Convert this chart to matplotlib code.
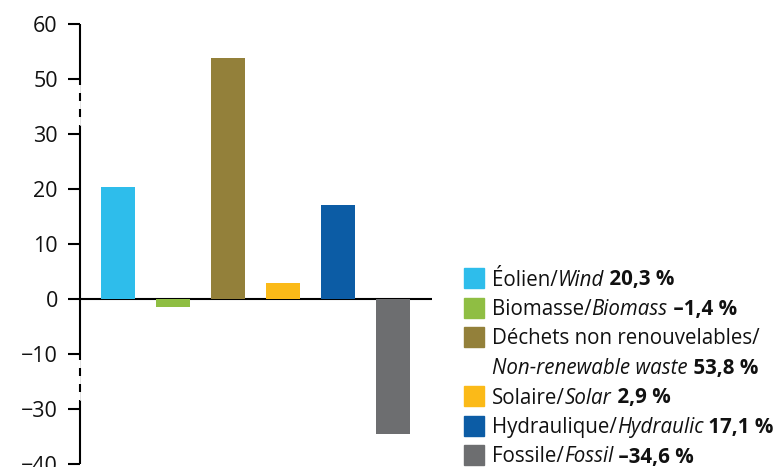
import numpy as np
import matplotlib
matplotlib.use("Agg")
import matplotlib.pyplot as plt
from matplotlib.patches import Rectangle

plt.rcParams['font.family'] = ['Open Sans', 'DejaVu Sans']
plt.rcParams['lines.scale_dashes'] = False

# data
sources = ["Wind", "Biomass", "Non-renewable waste", "Solar", "Hydraulic", "Fossil"]
changes = [20.3, -1.4, 53.8, 2.9, 17.1, -34.6]
colors = ["#2ebdeb", "#8fbe43", "#93803a", "#fbba18", "#0c5ca5", "#6d6e70"]
yticks = [60, 50, 30, 20, 10, 0, -10, -30, -40]

legend_rows = [
    [("Éolien/", "normal", "normal"), ("Wind", "italic", "normal"), (" 20,3 %", "normal", "bold")],
    [("Biomasse/", "normal", "normal"), ("Biomass", "italic", "normal"), (" –1,4 %", "normal", "bold")],
    [("Déchets non renouvelables/", "normal", "normal")],
    [("Non-renewable waste", "italic", "normal"), (" 53,8 %", "normal", "bold")],
    [("Solaire/", "normal", "normal"), ("Solar", "italic", "normal"), (" 2,9 %", "normal", "bold")],
    [("Hydraulique/", "normal", "normal"), ("Hydraulic", "italic", "normal"), (" 17,1 %", "normal", "bold")],
    [("Fossile/", "normal", "normal"), ("Fossil", "italic", "normal"), (" –34,6 %", "normal", "bold")],
]
legend_patch = [0, 1, 2, None, 3, 4, 5]

# broken axis: 30..50 and -10..-30 squeezed into one tick step
brk_v = np.array([-40, -30, -10, 30, 50, 60], float)
brk_u = np.array([-3, -2, -1, 3, 4, 5], float)


def fwd(v):
    v = np.asarray(v, float)
    return np.interp(v, brk_v, brk_u) + np.where(v > 60, (v - 60) / 10, 0) + np.where(v < -40, (v + 40) / 10, 0)


def inv(u):
    u = np.asarray(u, float)
    return np.interp(u, brk_u, brk_v) + np.where(u > 5, (u - 5) * 10, 0) + np.where(u < -3, (u + 3) * 10, 0)


W, H = 779, 467
fig = plt.figure(figsize=(W / 100, H / 100), dpi=100)
ax = fig.add_axes([80 / W, 3 / H, (432 - 80) / W, (464 - 24) / H])
ax.set_yscale('function', functions=(fwd, inv))

x = np.arange(len(sources))
ax.bar(x, changes, width=0.62, color=colors, zorder=3)
ax.axhline(0, color="black", lw=1.5, zorder=2)

ax.set_xlim(-0.69, 5.71)
ax.set_ylim(-40, 60)
ax.set_yticks(yticks)
ax.set_yticklabels([str(t).replace("-", "\u2212") for t in yticks])
ax.minorticks_off()
ax.set_xticks([])
ax.tick_params(axis='y', length=9, width=1.5, pad=7, labelsize=15.5, color="black", labelcolor="#111111")
for s in ax.spines.values():
    s.set_visible(False)

# left axis line with dashed breaks
tr = ax.get_yaxis_transform()
lk = dict(color="black", lw=1.5, transform=tr, clip_on=False, solid_capstyle="butt")


def px_to_v(py):
    return float(inv((299 - py) / 55))


ax.plot([0, 0], [60, px_to_v(85)], **lk)
ax.plot([0, 0], [px_to_v(125), px_to_v(360)], **lk)
ax.plot([0, 0], [px_to_v(400), -40], **lk)
for a, b in [(85, 117), (360, 392)]:
    ax.plot([0, 0], [px_to_v(a), px_to_v(b)], color="#dddddd", lw=0.6, transform=tr, clip_on=False)
    ax.plot([0, 0], [px_to_v(a), px_to_v(b)], color="black", lw=1.5, transform=tr, clip_on=False,
            linestyle=(5.76, (5.76, 5.76)), dash_capstyle="butt")
    ax.plot([0, 0], [px_to_v(b), px_to_v(b + 8)], color="#dddddd", lw=0.6, transform=tr, clip_on=False)

# legend drawn by hand (mixed roman / italic / bold)
renderer = fig.canvas.get_renderer()
row_y0, row_dy = 278, 29.5
for i, runs in enumerate(legend_rows):
    cy = row_y0 + i * row_dy
    k = legend_patch[i]
    if k is not None:
        fig.patches.append(Rectangle((464 / W, 1 - (cy + 10) / H), 20 / W, 20 / H,
                                     transform=fig.transFigure, color=colors[k]))
    px = 492
    for txt, style, weight in runs:
        t = fig.text(px / W, 1 - (cy + 7.5) / H, txt, fontsize=14.8, style=style, weight=weight,
                     color="#111111", va="baseline", ha="left")
        px += t.get_window_extent(renderer).width

fig.savefig("out.png", dpi=100)
